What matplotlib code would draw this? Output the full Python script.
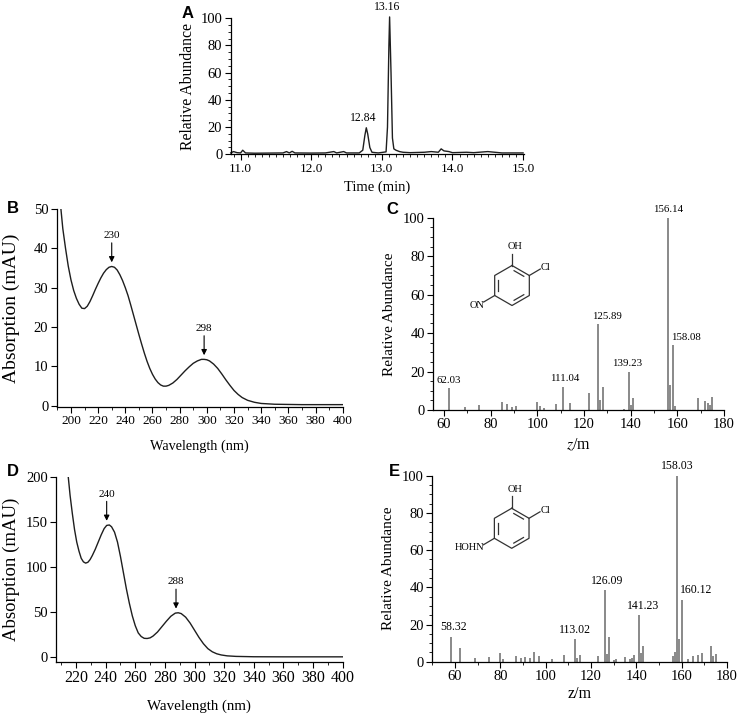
import matplotlib
matplotlib.use("Agg")
import matplotlib.pyplot as plt
from matplotlib.ticker import MultipleLocator, FormatStrFormatter
import numpy as np

plt.rcParams['font.family'] = ['Liberation Serif', 'DejaVu Serif']
plt.rcParams['mathtext.fontset'] = 'stix'
plt.rcParams['axes.linewidth'] = 0.9

# ---- data ----
# A: chromatogram
a_time = [10.86, 10.9, 10.95, 11.0, 11.03, 11.07, 11.2, 11.4, 11.6, 11.65, 11.69, 11.73, 11.77,
          12.0, 12.2, 12.32, 12.36, 12.46, 12.5, 12.68, 12.73, 12.76, 12.78, 12.8, 12.83, 12.86,
          12.95, 13.02, 13.06, 13.08, 13.1, 13.11, 13.13, 13.15, 13.17, 13.2, 13.25, 13.3, 13.4,
          13.6, 13.7, 13.8, 13.84, 13.88, 13.95, 14.0, 14.2, 14.3, 14.5, 14.6, 14.7, 15.0]
a_abund = [1.0, 2.0, 1.2, 1.0, 3.0, 1.0, 0.8, 0.9, 1.0, 2.0, 1.0, 2.2, 1.0,
           0.9, 1.0, 2.0, 1.0, 2.0, 1.0, 1.0, 3.0, 14.0, 19.5, 15.0, 5.0, 1.5,
           1.0, 1.5, 1.8, 20.0, 80.0, 101.0, 60.0, 12.0, 4.0, 3.0, 2.0, 1.5, 1.2,
           1.5, 2.0, 1.5, 4.0, 2.5, 2.0, 1.2, 1.5, 1.2, 2.0, 1.5, 1.0, 1.0]
a_peak_time = [12.78, 13.11]
a_peak_height = [19.5, 101.0]
a_peak_labels = ['12.84', '13.16']

# B: UV spectrum
b_nm = [192.6, 194, 196, 198, 200, 202, 204, 206, 208, 210, 212, 214, 216, 218, 220, 222, 224,
        226, 228, 230, 232, 234, 236, 238, 240, 242, 244, 246, 248, 250, 252, 254, 256, 258,
        260, 262, 264, 266, 268, 270, 272, 275, 278, 281, 284, 287, 290, 293, 296, 298, 300,
        302, 305, 308, 311, 314, 317, 320, 323, 326, 330, 335, 340, 350, 370, 400]
b_abs = [50, 45, 40, 35.5, 32, 29.3, 27.3, 25.8, 24.8, 24.7, 25.3, 26.5, 28, 29.6, 31.1, 32.5,
         33.7, 34.6, 35.2, 35.4, 35.2, 34.5, 33.3, 31.8, 30, 28, 25.6, 23.1, 20.6, 18.1, 15.7,
         13.4, 11.3, 9.5, 8.0, 6.8, 5.9, 5.3, 5.0, 5.0, 5.2, 5.8, 6.7, 7.8, 8.9, 9.9, 10.8,
         11.4, 11.8, 11.8, 11.7, 11.4, 10.6, 9.5, 8.1, 6.6, 5.2, 3.9, 2.9, 2.1, 1.4, 0.9, 0.6,
         0.4, 0.3, 0.3]
b_peaks = [230, 298]
b_peak_abs = [35.4, 11.8]

# D: UV spectrum
d_nm = [214.8, 216, 217.5, 219, 220.5, 222, 223.5, 225, 226.5, 228, 229.5, 231, 233, 235, 237,
        239, 240.7, 242.5, 244, 246, 248, 250, 252, 254, 256, 258, 260, 262, 264, 266, 268,
        270, 272, 275, 278, 281, 284, 287, 289, 291, 294, 297, 300, 303, 306, 309, 312, 315,
        318, 322, 328, 340, 360, 400]
d_abs = [200, 180, 160, 142, 128, 118, 110, 106, 104.6, 105.5, 108.5, 113, 120, 128, 136,
         143, 146.5, 147, 145, 139, 128, 112, 94, 76, 60, 46, 35, 27, 23, 21, 20.8,
         21.5, 23.5, 28, 34, 40, 45.5, 49, 49.4, 48.5, 44.5, 38, 30, 22, 15, 9.5, 6, 3.8,
         2.5, 1.5, 0.9, 0.5, 0.4, 0.4]
d_peaks = [240.7, 287.5]
d_peak_abs = [147, 49.4]
d_peak_labels = ['240', '288']

# C: mass spectrum
c_mz = [62.03, 69, 75, 85, 87, 89, 91, 100, 101, 103, 108, 111.04, 114, 122, 125.89, 127, 128,
        137, 139.23, 140, 141, 156.14, 157, 158.08, 159, 169, 172, 173, 174, 175]
c_int = [11.3, 1.4, 2.4, 4, 3, 1.7, 2.3, 4.2, 2, 1, 3.1, 12.1, 3.8, 8.8, 44.7, 5.2, 12.1,
         0.7, 20, 2.4, 6.4, 100, 13, 33.8, 2, 6.2, 4.7, 3.5, 2.6, 7]
c_labels = {62.03: '62.03', 111.04: '111.04', 125.89: '125.89', 139.23: '139.23',
            156.14: '156.14', 158.08: '158.08'}

# E: mass spectrum
e_mz = [58.32, 62, 69, 75, 80, 81, 87, 89, 91, 93, 95, 97, 103, 108, 113.02, 114, 115, 123,
        126.09, 127, 128, 130, 131, 135, 137, 138, 139, 141.23, 142, 143, 156, 157, 158.03, 159,
        160.12, 163, 165, 167, 169, 173, 174, 175]
e_int = [13.4, 7.5, 1.8, 2.7, 4.8, 1.4, 3.2, 2.2, 2.7, 2.2, 5.4, 3.2, 1.3, 3.4, 12.2, 2.2, 3.6, 3,
         38.5, 4.3, 13.3, 0.9, 1.3, 2.5, 1.4, 2.2, 3.6, 25, 4.5, 8.2, 3.2, 5, 100, 12.2,
         33.3, 1.6, 3, 3.6, 4.8, 8.6, 3, 4.1]
e_labels = {58.32: '58.32', 113.02: '113.02', 126.09: '126.09', 141.23: '141.23',
            158.03: '158.03', 160.12: '160.12'}

W, H = 743, 717
fig = plt.figure(figsize=(W / 100, H / 100), dpi=100)


def px_axes(left, top, right, bottom):
    return fig.add_axes([left / W, 1 - bottom / H, (right - left) / W, (bottom - top) / H])


def style(ax, xfs=10.5, yfs=10.5):
    for s in ('top', 'right'):
        ax.spines[s].set_visible(False)
    ax.tick_params(which='major', direction='out', length=4, width=0.8, pad=2)
    ax.tick_params(which='minor', direction='out', length=2, width=0.6)
    ax.tick_params(axis='x', labelsize=xfs)
    ax.tick_params(axis='y', labelsize=yfs)


line_col = '#1e1e1e'
bar_col = '#757575'

# ---- A ----
axA = px_axes(230.7, 18.3, 524.5, 154.3)
axA.plot(a_time, a_abund, color=line_col, lw=1.0, clip_on=False)
for t, h, lab in zip(a_peak_time, a_peak_height, a_peak_labels):
    axA.annotate(lab, (t, h), xytext=(-2, 3), textcoords='offset points',
                 ha='center', va='bottom', fontsize=8.5, annotation_clip=False)
axA.set_xlim(10.86, 15.02)
axA.set_ylim(0, 100)
axA.xaxis.set_major_locator(MultipleLocator(1))
axA.xaxis.set_minor_locator(MultipleLocator(0.1))
axA.yaxis.set_major_locator(MultipleLocator(20))
axA.yaxis.set_minor_locator(MultipleLocator(5))
axA.xaxis.set_major_formatter(FormatStrFormatter('%.1f'))
style(axA, 9.5, 10.5)
axA.set_xlabel('Time (min)', fontsize=10.5, labelpad=4)
axA.set_ylabel('Relative Abundance', fontsize=11.3, labelpad=3)


def uv_panel(ax, nm, ab, peaks, heights, labels):
    ax.plot(nm, ab, color=line_col, lw=1.0)
    for x, h, lab in zip(peaks, heights, labels):
        ax.annotate('', xy=(x, h), xytext=(0, 17), textcoords='offset points',
                    arrowprops=dict(arrowstyle='-|>', color='k', lw=0.8,
                                    shrinkA=0, shrinkB=3, mutation_scale=8))
        ax.annotate(lab, (x, h), xytext=(0, 19), textcoords='offset points',
                    ha='center', va='bottom', fontsize=8)


# ---- B ----
axB = px_axes(56.7, 209, 342.7, 407)
uv_panel(axB, b_nm, b_abs, b_peaks, b_peak_abs, [str(p) for p in b_peaks])
axB.set_xlim(189.5, 400)
axB.set_ylim(-0.3, 50)
axB.xaxis.set_major_locator(MultipleLocator(20))
axB.xaxis.set_minor_locator(MultipleLocator(10))
axB.yaxis.set_major_locator(MultipleLocator(10))
style(axB, 9.5, 10.5)
axB.set_xlabel('Wavelength (nm)', fontsize=10.3, labelpad=9)
axB.set_ylabel('Absorption (mAU)', fontsize=14, labelpad=10)

# ---- D ----
axD = px_axes(56, 477.3, 342.7, 661.7)
uv_panel(axD, d_nm, d_abs, d_peaks, d_peak_abs, d_peak_labels)
axD.set_xlim(206.5, 400)
axD.set_ylim(-5, 200)
axD.xaxis.set_major_locator(MultipleLocator(20))
axD.xaxis.set_minor_locator(MultipleLocator(10))
axD.yaxis.set_major_locator(MultipleLocator(50))
style(axD, 11.5, 10.5)
axD.set_xlabel('Wavelength (nm)', fontsize=10.8, labelpad=10)
axD.set_ylabel('Absorption (mAU)', fontsize=13.5, labelpad=4)


def ms_panel(ax, mz, inten, labels, offsets, fs):
    ax.vlines(mz, 0, inten, color=bar_col, lw=1.2)
    for x, h in zip(mz, inten):
        if x in labels:
            ax.annotate(labels[x], (x, h), xytext=(offsets[labels[x]], 2.5),
                        textcoords='offset points', ha='center', va='bottom', fontsize=fs)
    ax.set_ylim(0, 100)
    ax.xaxis.set_major_locator(MultipleLocator(20))
    ax.xaxis.set_minor_locator(MultipleLocator(10))
    ax.yaxis.set_major_locator(MultipleLocator(20))
    ax.yaxis.set_minor_locator(MultipleLocator(5))
    style(ax, 10.5, 10.5)
    ax.set_ylabel('Relative Abundance', fontsize=11, labelpad=5)


# ---- C ----
axC = px_axes(433.3, 217.7, 724, 410)
ms_panel(axC, c_mz, c_int, c_labels,
         {'62.03': 0, '111.04': 1.5, '125.89': 7, '139.23': -1, '156.14': 0, '158.08': 9.5}, 7.8)
axC.set_xlim(55.4, 180)
axC.set_xlabel('$z$/m', fontsize=11.5, labelpad=4)

# ---- E ----
axE = px_axes(432.3, 475.7, 727, 661.7)
ms_panel(axE, e_mz, e_int, e_labels,
         {'58.32': 2, '113.02': 0, '126.09': 2, '141.23': 3, '158.03': 0, '160.12': 10}, 8.5)
axE.set_xlim(50, 180)
axE.set_xlabel('z/m', fontsize=11.5, labelpad=2)


# ---- structures ----
def structure(cx, cy, sub):
    ax = fig.add_axes([(cx - 60) / W, 1 - (cy + 60) / H, 120 / W, 120 / H])
    ax.set_xlim(-60, 60)
    ax.set_ylim(-60, 60)
    ax.axis('off')
    r = 20
    ang = np.radians([90, 30, -30, -90, -150, 150])
    vx, vy = r * np.cos(ang), r * np.sin(ang)
    kw = dict(color='#333333', lw=0.9)
    ax.plot(np.append(vx, vx[0]), np.append(vy, vy[0]), **kw)
    for i in (0, 2, 4):
        j = (i + 1) % 6
        p = np.array([vx[i], vy[i]]) * 0.8
        q = np.array([vx[j], vy[j]]) * 0.8
        a, b = p + 0.15 * (q - p), p + 0.85 * (q - p)
        ax.plot([a[0], b[0]], [a[1], b[1]], **kw)
    ax.plot([vx[0], vx[0]], [vy[0], vy[0] + 12], **kw)
    ax.text(3, vy[0] + 19, 'OH', ha='center', va='center', fontsize=7.5)
    ax.plot([vx[1], vx[1] + 11], [vy[1], vy[1] + 6.5], **kw)
    ax.text(vx[1] + 11.5, vy[1] + 7.5, 'Cl', ha='left', va='center', fontsize=7.5)
    ax.plot([vx[4], vx[4] - 11], [vy[4], vy[4] - 6.5], **kw)
    ax.text(vx[4] - 10.5, vy[4] - 9.5, sub, ha='right', va='center', fontsize=7.5)


structure(512, 285.5, 'ON')
structure(511.7, 528.3, 'HOHN')

# ---- panel letters ----
for lab, x, y in [('A', 187.5, 13.3), ('B', 12.5, 209), ('C', 392.5, 210),
                  ('D', 12.5, 471), ('E', 394, 471)]:
    fig.text(x / W, 1 - y / H, lab, ha='center', va='center', fontsize=12,
             fontweight='bold', family='Liberation Sans')

fig.savefig('out.png', dpi=100)
